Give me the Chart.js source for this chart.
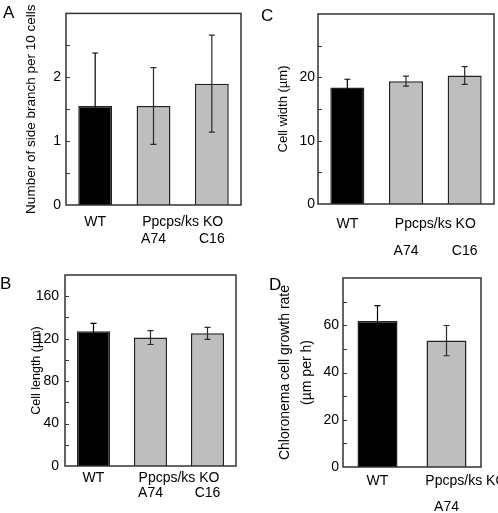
<!DOCTYPE html>
<html>
<head>
<meta charset="utf-8">
<script src="https://cdn.jsdelivr.net/npm/chart.js@4.4.0/dist/chart.umd.min.js"></script>
<style>
  body { margin: 0; background: #fff; }
  #wrap { position: relative; width: 498px; height: 513px; overflow: hidden; }
  canvas { position: absolute; }
  .letter { position: absolute; font: 17px "Liberation Sans", Arial, sans-serif; line-height: 17px; color: #000; }
</style>
</head>
<body>
<div id="wrap">
  <canvas id="chartA" width="249" height="255" style="left:0;top:0"></canvas>
  <canvas id="chartC" width="249" height="255" style="left:249px;top:0"></canvas>
  <canvas id="chartB" width="249" height="258" style="left:0;top:255px"></canvas>
  <canvas id="chartD" width="249" height="258" style="left:249px;top:255px"></canvas>
  <div class="letter" style="left:3px;top:4px">A</div>
  <div class="letter" style="left:261px;top:7px">C</div>
  <div class="letter" style="left:0px;top:275px">B</div>
  <div class="letter" style="left:269px;top:276px">D</div>
</div>
<script>
// lines shown under the bars
var strains = ['WT', 'A74', 'C16'];
var strainsD = ['WT', 'A74'];
var koLabel = 'Ppcps/ks KO';

// A: side branches per 10 cells
var branchMean = [1.55, 1.55, 1.9];
var branchErr = [0.83, 0.6, 0.76];
// B: cell length (um)
var lengthMean = [127, 121, 125];
var lengthErr = [7.5, 6.5, 5.7];
// C: cell width (um)
var widthMean = [18.4, 19.4, 20.3];
var widthErr = [1.3, 0.8, 1.4];
// D: chloronema growth rate (um per h)
var rateMean = [61.8, 53.5];
var rateErr = [6.5, 6.4];

var barColors = ['#000000', '#bebebe', '#bebebe'];

var font = '"Liberation Sans", Arial, sans-serif';

// error bars, frame, inward ticks and the KO group label
var panelExtras = {
  id: 'panelExtras',
  afterDatasetsDraw: function(chart) {
    var ctx = chart.ctx;
    var o = chart.options.plugins.panelExtras;
    var y = chart.scales.y, x = chart.scales.x;
    var area = chart.chartArea;
    var meta = chart.getDatasetMeta(0);
    var ds = chart.data.datasets[0];

    ctx.save();
    ctx.lineWidth = 1.2;
    meta.data.forEach(function(bar, i) {
      var hi = y.getPixelForValue(ds.data[i] + o.errors[i]);
      var lo = y.getPixelForValue(ds.data[i] - o.errors[i]);
      ctx.strokeStyle = ds.backgroundColor[i] === '#000000' ? '#000' : '#2a2a2a';
      ctx.beginPath();
      ctx.moveTo(bar.x, hi); ctx.lineTo(bar.x, lo);
      ctx.moveTo(bar.x - 3, hi); ctx.lineTo(bar.x + 3, hi);
      ctx.moveTo(bar.x - 3, lo); ctx.lineTo(bar.x + 3, lo);
      ctx.stroke();
    });

    // frame
    ctx.strokeStyle = '#333';
    ctx.lineWidth = 1.5;
    ctx.strokeRect(area.left, area.top, area.right - area.left, area.bottom - area.top);

    // tick marks pointing into the plot
    ctx.lineWidth = 1;
    y.ticks.forEach(function(t) {
      if (t.value <= y.min || t.value >= y.max) return;
      var py = Math.round(y.getPixelForValue(t.value)) + 0.5;
      ctx.beginPath();
      ctx.moveTo(area.left, py); ctx.lineTo(area.left + 4, py);
      ctx.stroke();
    });

    // group label over the KO lines
    ctx.fillStyle = '#000';
    ctx.font = '14px ' + font;
    ctx.textAlign = 'center';
    ctx.textBaseline = 'middle';
    var gx = x.getPixelForValue(o.groupAt);
    var gy = x.top + o.xPad + o.xLine / 2;
    ctx.fillText(koLabel, gx, gy);
    ctx.restore();
  }
};

function makePanel(id, cfg) {
  var labels = cfg.labels;
  new Chart(document.getElementById(id), {
    type: 'bar',
    data: {
      labels: labels,
      datasets: [{
        data: cfg.means,
        backgroundColor: barColors.slice(0, labels.length),
        borderColor: '#222',
        borderWidth: 1.5,
        barPercentage: 0.58,
        categoryPercentage: 1
      }]
    },
    plugins: [panelExtras],
    options: {
      responsive: false,
      animation: false,
      layout: { padding: { top: cfg.padTop, right: cfg.padRight, left: 0, bottom: 0 } },
      plugins: {
        legend: { display: false },
        tooltip: { enabled: false },
        panelExtras: { errors: cfg.errors, groupAt: cfg.groupAt, xPad: cfg.xPad, xLine: cfg.xLine }
      },
      scales: {
        x: {
          grid: { display: false, drawTicks: false },
          border: { display: false },
          ticks: {
            color: '#000',
            padding: cfg.xPad,
            font: { family: font, size: 14, lineHeight: cfg.xLine + 'px' },
            callback: function(v, i) { return i === 0 ? labels[0] : ['', labels[i]]; }
          },
          afterFit: function(s) { s.height = cfg.xHeight; }
        },
        y: {
          min: 0,
          max: cfg.max,
          grid: { display: false, drawTicks: false },
          border: { display: false },
          ticks: {
            stepSize: cfg.step,
            color: '#000',
            padding: cfg.yPad,
            font: { family: font, size: 14 },
            callback: function(v) {
              return (Math.abs(v / cfg.major - Math.round(v / cfg.major)) < 1e-6 && v < cfg.max) ? v : '';
            }
          },
          title: {
            display: true,
            text: cfg.title,
            color: '#000',
            font: { family: font, size: cfg.titleSize, lineHeight: cfg.titleLine || 1.2 },
            padding: { top: cfg.titlePad, bottom: 0 }
          },
          afterFit: function(s) { s.width = cfg.yWidth; }
        }
      }
    }
  });
}

makePanel('chartA', {
  labels: strains, means: branchMean, errors: branchErr,
  max: 3, step: 0.5, major: 1,
  title: 'Number of side branch per 10 cells', titleSize: 13.5, titlePad: 23,
  yWidth: 66, xHeight: 50, padTop: 13, padRight: 8,
  yPad: 5, xPad: 9, xLine: 17, groupAt: 1.5
});

makePanel('chartC', {
  labels: strains, means: widthMean, errors: widthErr,
  max: 30, step: 5, major: 10,
  title: 'Cell width (\u00b5m)', titleSize: 13, titlePad: 27,
  yWidth: 69, xHeight: 51, padTop: 14, padRight: 4,
  yPad: 3, xPad: 7, xLine: 27, groupAt: 1.5
});

makePanel('chartB', {
  labels: strains, means: lengthMean, errors: lengthErr,
  max: 180, step: 20, major: 40,
  title: 'Cell length (\u00b5m)', titleSize: 12.5, titlePad: 29,
  yWidth: 65, xHeight: 47, padTop: 20, padRight: 13,
  yPad: 6, xPad: 5, xLine: 15, groupAt: 1.5
});

makePanel('chartD', {
  labels: strainsD, means: rateMean, errors: rateErr,
  max: 80, step: 10, major: 20,
  title: ['Chloronema cell growth rate', '(\u00b5m per h)'], titleSize: 14, titlePad: 25, titleLine: '22px',
  yWidth: 94, xHeight: 46, padTop: 23, padRight: 17,
  yPad: 4, xPad: 1, xLine: 26, groupAt: 1.28
});
</script>
</body>
</html>
